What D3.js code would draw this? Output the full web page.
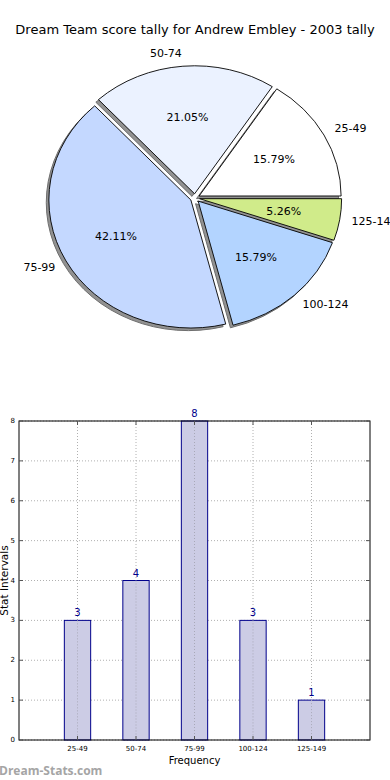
<!DOCTYPE html>
<html>
<head>
<meta charset="utf-8">
<script src="https://cdn.jsdelivr.net/npm/d3@7"></script>
<style>
html,body{margin:0;padding:0;background:#fff;}
svg{display:block;font-family:"DejaVu Sans",sans-serif;}
</style>
</head>
<body>
<svg id="chart" width="390" height="780"></svg>
<script>
const categories = ["25-49", "50-74", "75-99", "100-124", "125-149"];
const counts = [3, 4, 8, 3, 1];
const sliceColors = ["#FFFFFF", "#EBF2FF", "#C4D8FF", "#B3D4FF", "#D0EB8A"];
const yTicks = [0, 1, 2, 3, 4, 5, 6, 7, 8];
const titleText = "Dream Team score tally for Andrew Embley - 2003 tally";

(function () {
const svg = d3.select("#chart");

svg.append("text").attr("x", 195).attr("y", 34).attr("text-anchor", "middle")
  .attr("font-size", 13).attr("fill", "#000").text(titleText);

// ---------- Pie ----------
const cx = 195, cy = 198, rx = 142, ry = 128, explode = 0.033, labelDist = 1.085, pctDist = 0.6;
const total = d3.sum(counts);
const pie = d3.pie().sort(null).startAngle(Math.PI / 2).endAngle(Math.PI / 2 - 2 * Math.PI);
const arcs = pie(counts);
const arc = d3.arc().innerRadius(0).outerRadius(100);
const pieG = svg.append("g");

arcs.forEach((a, i) => {
  const mid = (a.startAngle + a.endAngle) / 2;
  const dx = Math.sin(mid) * explode * rx;
  const dy = -Math.cos(mid) * explode * ry;
  pieG.append("path")
    .attr("d", arc(a))
    .attr("transform", `translate(${cx + dx - 2.6},${cy + dy + 2.6}) scale(${rx / 100},${ry / 100})`)
    .attr("fill", "#7f7f7f").attr("stroke", "#555").attr("stroke-width", 1)
    .attr("vector-effect", "non-scaling-stroke").attr("opacity", 0.85);
});
arcs.forEach((a, i) => {
  const mid = (a.startAngle + a.endAngle) / 2;
  const dx = Math.sin(mid) * explode * rx;
  const dy = -Math.cos(mid) * explode * ry;
  pieG.append("path")
    .attr("d", arc(a))
    .attr("transform", `translate(${cx + dx},${cy + dy}) scale(${rx / 100},${ry / 100})`)
    .attr("fill", sliceColors[i]).attr("stroke", "#000").attr("stroke-width", 0.9)
    .attr("vector-effect", "non-scaling-stroke").attr("stroke-linejoin", "round");
});
arcs.forEach((a, i) => {
  const mid = (a.startAngle + a.endAngle) / 2;
  const sx = Math.sin(mid), sy = -Math.cos(mid);
  const dx = sx * explode * rx, dy = sy * explode * ry;
  pieG.append("text")
    .attr("x", cx + dx + labelDist * rx * sx).attr("y", cy + dy + 1.1 * ry * sy)
    .attr("text-anchor", sx > 0 ? "start" : "end").attr("dominant-baseline", "central")
    .attr("font-size", 11).attr("fill", "#000").text(categories[i]);
  pieG.append("text")
    .attr("x", cx + dx + pctDist * rx * sx).attr("y", cy + dy + pctDist * ry * sy)
    .attr("text-anchor", "middle").attr("dominant-baseline", "central")
    .attr("font-size", 11).attr("fill", "#000")
    .text((counts[i] / total * 100).toFixed(2) + "%");
});

// ---------- Bar chart ----------
const pLeft = 19, pRight = 370, pTop = 421, pBottom = 740;
const x = d3.scaleLinear().domain([0, categories.length + 1]).range([pLeft, pRight]);
const y = d3.scaleLinear().domain([0, 8]).range([pBottom, pTop]);
const barW = 0.45;
const bg = svg.append("g");

yTicks.forEach(t => {
  bg.append("line").attr("x1", pLeft).attr("x2", pRight).attr("y1", y(t)).attr("y2", y(t))
    .attr("stroke", "#b0b0b0").attr("stroke-width", 1).attr("stroke-dasharray", "1,2");
});
categories.forEach((c, i) => {
  bg.append("line").attr("x1", x(i + 1)).attr("x2", x(i + 1)).attr("y1", pTop).attr("y2", pBottom)
    .attr("stroke", "#b0b0b0").attr("stroke-width", 1).attr("stroke-dasharray", "1,2");
});

bg.selectAll("rect.bar").data(counts).enter().append("rect").attr("class", "bar")
  .attr("x", (d, i) => x(i + 1 - barW / 2))
  .attr("width", (d, i) => x(i + 1 + barW / 2) - x(i + 1 - barW / 2))
  .attr("y", d => y(d)).attr("height", d => y(0) - y(d))
  .attr("fill", "#CCCCE5").attr("stroke", "#00008B").attr("stroke-width", 1);

categories.forEach((c, i) => {
  bg.append("line").attr("x1", x(i + 1)).attr("x2", x(i + 1)).attr("y1", y(counts[i])).attr("y2", pBottom)
    .attr("stroke", "#a8a8b8").attr("stroke-width", 1).attr("stroke-dasharray", "1,2");
});

bg.selectAll("text.val").data(counts).enter().append("text").attr("class", "val")
  .attr("x", (d, i) => x(i + 1)).attr("y", d => y(d) - 4)
  .attr("text-anchor", "middle").attr("font-size", 10).attr("fill", "#00008B").text(d => d);

bg.append("rect").attr("x", pLeft).attr("y", pTop).attr("width", pRight - pLeft).attr("height", pBottom - pTop)
  .attr("fill", "none").attr("stroke", "#000").attr("stroke-width", 1);

yTicks.forEach(t => {
  bg.append("line").attr("x1", pLeft).attr("x2", pLeft + 4).attr("y1", y(t)).attr("y2", y(t)).attr("stroke", "#555");
  bg.append("line").attr("x1", pRight - 4).attr("x2", pRight).attr("y1", y(t)).attr("y2", y(t)).attr("stroke", "#555");
  bg.append("text").attr("x", pLeft - 4).attr("y", y(t)).attr("text-anchor", "end")
    .attr("dominant-baseline", "central").attr("font-size", 7).attr("fill", "#000").text(t);
});
categories.forEach((c, i) => {
  bg.append("line").attr("x1", x(i + 1)).attr("x2", x(i + 1)).attr("y1", pBottom - 4).attr("y2", pBottom).attr("stroke", "#555");
  bg.append("line").attr("x1", x(i + 1)).attr("x2", x(i + 1)).attr("y1", pTop).attr("y2", pTop + 4).attr("stroke", "#555");
  bg.append("text").attr("x", x(i + 1)).attr("y", pBottom + 11).attr("text-anchor", "middle")
    .attr("font-size", 7).attr("fill", "#000").text(c);
});

bg.append("text").attr("x", (pLeft + pRight) / 2).attr("y", 764).attr("text-anchor", "middle")
  .attr("font-size", 10).attr("fill", "#000").text("Frequency");
bg.append("text").attr("transform", `translate(8,${(pTop + pBottom) / 2}) rotate(-90)`)
  .attr("text-anchor", "middle").attr("font-size", 10.5).attr("fill", "#000").text("Stat Intervals");

svg.append("text").attr("x", -1).attr("y", 775).attr("font-family", "'Open Sans',sans-serif")
  .attr("font-weight", "bold").attr("font-size", 12).attr("fill", "#a5a5a5").text("Dream-Stats.com");
})();
</script>
</body>
</html>
